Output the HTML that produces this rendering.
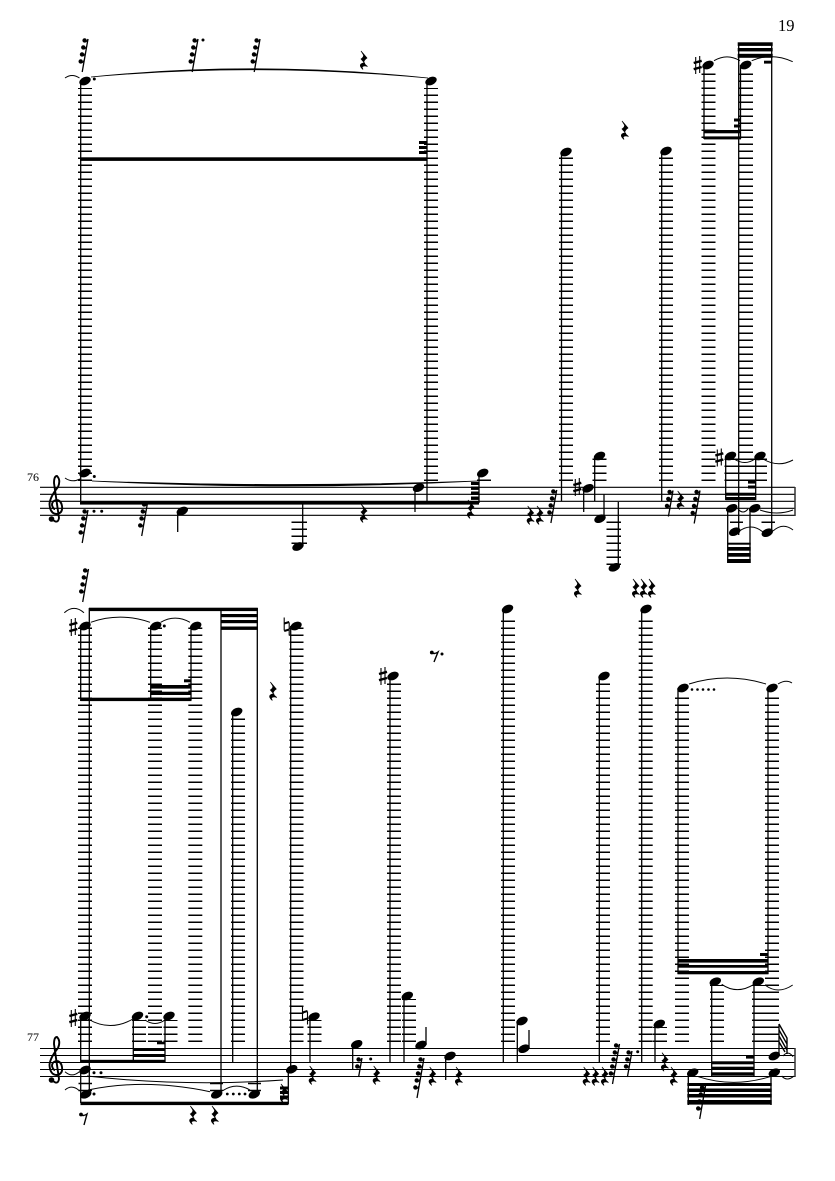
<!DOCTYPE html>
<html><head><meta charset="utf-8"><style>
html,body{margin:0;padding:0;background:#fff}
svg{display:block}
.l{fill:none;stroke:#000;stroke-width:14;stroke-dasharray:1.5 5.5}
.t{stroke:#000;stroke-width:1;fill:none}
.st{stroke:#000;stroke-width:1.3}
text{font-family:"Liberation Serif",serif;fill:#000}
</style></head><body>
<svg width="835" height="1181" viewBox="0 0 835 1181" xmlns="http://www.w3.org/2000/svg">
<defs>
<ellipse id="n" rx="6" ry="3.9" transform="rotate(-24)"/>
<path id="q" stroke="#000" stroke-width=".7" d="M-3 -9L3 -2Q0 0 -.5 3L3.5 6.5Q0 5 -2 7L-1 9.5Q-5 6 -3 4Q-1 2.5 1 3.5L-3 -1Q0 -3 -.5 -5Z"/>
<g id="fl"><circle cx="-3.4" cy="1.4" r="2.2"/><path d="M-3 3Q-1 3 0 0" fill="none" stroke="#000" stroke-width="1.1"/></g>
<g id="r2"><path d="M0 0L-3.4 19" class="st"/><use href="#fl"/><use href="#fl" x="-1.3" y="7"/></g>
<g id="r3"><path d="M0 0L-4.6 26" class="st"/><use href="#fl"/><use href="#fl" x="-1.3" y="7"/><use href="#fl" x="-2.6" y="14"/></g>
<g id="r4"><path d="M0 0L-5.8 33" class="st"/><use href="#fl"/><use href="#fl" x="-1.3" y="7"/><use href="#fl" x="-2.6" y="14"/><use href="#fl" x="-3.9" y="21"/></g>
<g id="r5"><path d="M0 0L-7 40" class="st"/><use href="#fl"/><use href="#fl" x="-1.3" y="7"/><use href="#fl" x="-2.6" y="14"/><use href="#fl" x="-3.9" y="21"/><use href="#fl" x="-5.2" y="28"/></g>
<g id="sh"><path d="M-2 -8V9M2 -9V8" stroke="#000" stroke-width="1.1" fill="none"/><path d="M-4 -2L4 -4.2M-4 4.2L4 2" stroke="#000" stroke-width="2.4" fill="none"/></g>
<g id="na"><path d="M-2.5 -9V4M2.5 -4V9" stroke="#000" stroke-width="1.1" fill="none"/><path d="M-2.5 -3L2.5 -4.5M-2.5 4.5L2.5 3" stroke="#000" stroke-width="2" fill="none"/></g>
<g id="cl"><path d="M53 520Q58 524 59 518L54 483Q54 476 57 476Q61 480 58 487Q50 497 49.5 504Q50 514 57 514Q63 513 62 506Q61 500 56 500Q52 501 52 505Q53 509 55 509" fill="none" stroke="#000" stroke-width="1.9"/><circle cx="51.5" cy="519" r="2.8"/></g>
</defs>
<rect width="835" height="1181" fill="#fff"/>
<text x="778" y="31" font-size="16.5">19</text>
<text x="27" y="481" font-size="12">76</text>
<text x="27" y="1041" font-size="12">77</text>

<path d="M40 487.3H795M40 494.3H795M40 501.3H795M40 508.3H795M40 515.3H795M40 1048.5H795M40 1055.5H795M40 1062.5H795M40 1069.5H795M40 1076.5H795" stroke="#000" stroke-width="1.1" fill="none"/>
<path d="M795 487V516M795 1048V1077" stroke="#333" stroke-width="1.5"/>
<use href="#cl"/><use href="#cl" y="561"/>

<g class="l">
<path d="M85 481V88"/><path d="M431 481V88"/><path d="M566 481V157"/><path d="M666 481V157"/><path d="M708.5 481V71"/><path d="M746 481V71"/>
<path d="M599.5 481V458"/><path d="M731.5 481V458"/><path d="M760 481V458"/><path d="M484 481V478"/>
</g>
<path d="M291.5 522.3H307M291.5 529.3H307M291.5 536.3H307M291.5 543.3H307M606.5 522.3H621M606.5 529.3H621M606.5 536.3H621M606.5 543.3H621M606.5 550.3H621M606.5 557.3H621M606.5 564.3H621M730 522.3H743M761.5 522.3H775" stroke="#000" stroke-width="1.5"/>

<g class="st">
<path d="M80.7 82V503M427 82V503M479 473V503M177.7 511V532M302.7 503V546M415 488V512M561.5 152V501M583.7 488V512M594.7 456V501M604 494V518M618.3 502V567M661.7 151V501M704 65V139M740.5 65V139M738.7 43V535M771.7 43V530M725.7 456V500M755.7 456V500M727.7 508V563M750 508V563"/>
</g>

<g>
<rect x="80" y="157.3" width="347.5" height="3.6"/>
<rect x="80" y="501" width="399" height="3.6"/>
<rect x="419" y="141" width="8" height="3"/><rect x="419" y="146" width="8" height="3"/><rect x="419" y="151" width="8" height="3"/>
<rect x="471" y="482" width="8" height="3"/><rect x="471" y="486.5" width="8" height="3.4"/><rect x="471" y="491.5" width="8" height="3.4"/><rect x="471" y="496.5" width="8" height="3.4"/>
<rect x="737.7" y="42.3" width="35" height="3.6"/><rect x="737.7" y="48" width="35" height="3.4"/><rect x="737.7" y="53.8" width="35" height="4"/>
<rect x="764" y="60.7" width="8" height="2.9"/>
<rect x="704" y="130" width="37" height="3.3"/><rect x="704" y="136.4" width="37" height="3"/>
<rect x="734" y="118.5" width="6.5" height="3"/><rect x="734" y="124.5" width="6.5" height="3"/>
<rect x="725.5" y="492.7" width="30.5" height="3"/><rect x="725.5" y="497" width="30.5" height="3.2"/>
<rect x="748" y="481" width="8" height="2.6"/><rect x="748" y="485.5" width="8" height="3"/>
<rect x="727.3" y="542.7" width="23.4" height="2"/><rect x="727.3" y="547" width="23.4" height="3.7"/><rect x="727.3" y="553" width="23.4" height="3.7"/><rect x="727.3" y="559" width="23.4" height="4"/>
</g>

<use href="#n" x="85" y="81"/><use href="#n" x="431" y="81"/>
<use href="#n" x="85" y="473"/><use href="#n" x="482.7" y="473"/>
<use href="#n" x="182.3" y="511"/><use href="#n" x="298" y="546.5"/><use href="#n" x="418.5" y="487.7"/>
<use href="#n" x="566" y="152"/><use href="#n" x="666" y="151"/><use href="#n" x="708" y="65"/><use href="#n" x="745.7" y="65"/>
<use href="#n" x="588" y="488.3"/><use href="#n" x="599.5" y="456"/><use href="#n" x="600" y="518.7"/><use href="#n" x="614.3" y="567.3"/>
<use href="#n" x="730.5" y="456"/><use href="#n" x="760" y="456"/><use href="#n" x="731.7" y="508.3"/><use href="#n" x="754.7" y="508.3"/><use href="#n" x="734.7" y="531.7"/><use href="#n" x="767.3" y="532.7"/>
<circle cx="94.3" cy="79" r="1.5"/><circle cx="94.3" cy="476.5" r="1.5"/>
<circle cx="94" cy="511.3" r="1.5"/><circle cx="101.7" cy="511.3" r="1.5"/><circle cx="203" cy="40" r="1.5"/>

<use href="#sh" x="697.7" y="65"/><use href="#sh" x="577.3" y="487"/><use href="#sh" x="719.3" y="457.5"/>

<use href="#r4" x="88" y="39"/><use href="#r4" x="198" y="39"/><use href="#r4" x="260" y="39"/>
<use href="#q" x="364" y="60"/><use href="#q" x="625" y="130"/>
<use href="#r4" x="88" y="510"/>
<use href="#r4" x="147.5" y="503"/>
<use href="#q" x="364" y="513"/><use href="#q" x="471" y="509"/>
<use href="#q" x="530.7" y="515"/><use href="#q" x="540" y="515"/>
<use href="#r4" x="556.7" y="490"/><use href="#r3" x="673" y="490.5"/><use href="#q" x="680.7" y="500"/><use href="#r4" x="700" y="490.5"/>

<g class="t">
<path d="M91 77Q255 60 428 78Q255 62 91 77Z" stroke-width=".7" fill="#000"/>
<path d="M65 78Q72 73 79.5 78"/>
<path d="M92 481Q285 491 478 481Q285 488 92 481Z" stroke-width=".7" fill="#000"/>
<path d="M65 478Q72 483 80 479"/>
<path d="M714 60.7Q727 53 740 60.7M751.7 60.7Q772 52 792.7 61.7M734 459Q745 466 755 459M763 459Q778 468 793 460M738 509Q743 515 748 509M760 510Q777 516 793 510M738 532Q751 522 763 532M773 531Q783 522 793 530"/>
</g>

<g class="l">
<path d="M85 1042V627"/><path d="M155 1042V627"/><path d="M195.3 1042V627"/><path d="M296.5 1042V627"/><path d="M238 1042V718"/><path d="M394 1042V683"/><path d="M508 1042V616"/><path d="M603 1042V683"/><path d="M645.7 1042V616"/><path d="M682 1042V694"/><path d="M772 1042V694"/>
<path d="M314.5 1042V1020"/><path d="M409 1042V999"/><path d="M660 1042V1027"/><path d="M717 1042V985"/><path d="M759 1042V985"/><path d="M139 1042V1020"/><path d="M170.5 1042V1020"/>
</g>
<path d="M78.5 1083.5H92M78.5 1090.5H92M210 1083.5H223M210 1090.5H223M248 1083.5H261M248 1090.5H261" stroke="#000" stroke-width="1.5"/>

<g class="st">
<path d="M80.7 626V701M80.7 1016V1062M89.3 608V1093M150.7 626V700M191 626V700M221 608V1091M257.3 608V1091M232.7 712V1062M290.7 626V1069M133.3 1016V1062M165 1016V1062M310 1016V1062M80.7 1070V1103M288.3 1069V1104M352.7 1044V1069M390 676V1062M404 996V1062M426 1045V1027M445.7 1056V1080M503.3 609V1062M517.3 1021V1062M529 1049V1030M599.3 676V1063M641.7 609V1063M655 1024V1062M678 688V974M768 688V974M711.7 982V1076M754 982V1076M779 1056V1024M771 1072V1105M688.3 1072V1105"/>
</g>

<g>
<rect x="89" y="607.7" width="168.8" height="3.4"/>
<rect x="221" y="614" width="36.8" height="3.2"/><rect x="221" y="620" width="36.8" height="3.2"/><rect x="221" y="626.5" width="36.8" height="3.4"/>
<rect x="80.5" y="697.7" width="111" height="3.4"/>
<rect x="150.7" y="685" width="40.5" height="3.6"/><rect x="150.7" y="691.7" width="40.5" height="3.3"/>
<rect x="184" y="679.3" width="7" height="3"/>
<rect x="80.5" y="1059.8" width="84.8" height="2.8"/>
<rect x="133.3" y="1048" width="32" height="3"/><rect x="133.3" y="1054" width="32" height="3"/>
<rect x="157" y="1041.7" width="8" height="2.6"/>
<rect x="80.5" y="1101.7" width="208" height="3.4"/>
<rect x="280" y="1086.5" width="8.3" height="3"/><rect x="280" y="1091" width="8.3" height="3"/><rect x="280" y="1095.5" width="8.3" height="3"/>
<rect x="677.5" y="959" width="91" height="3.6"/><rect x="677.5" y="965" width="91" height="2.7"/><rect x="677.5" y="971" width="91" height="3.3"/>
<rect x="760" y="953" width="8.3" height="3"/>
<rect x="711.7" y="1061.3" width="42.5" height="3"/><rect x="711.7" y="1066.7" width="42.5" height="3.3"/><rect x="711.7" y="1072.3" width="42.5" height="3.4"/>
<rect x="746" y="1055.3" width="8" height="3.3"/>
<rect x="687.3" y="1083" width="84.4" height="3"/><rect x="687.3" y="1088.5" width="84.4" height="3.5"/><rect x="687.3" y="1094" width="84.4" height="3.5"/><rect x="687.3" y="1100" width="84.4" height="4.6"/>
</g>
<path d="M779 1024L787 1038V1045M779 1030L787 1044V1050M779 1036L787 1050V1054M779 1042L785 1052" stroke="#000" stroke-width="1.4" fill="none"/>

<use href="#n" x="85" y="626"/><use href="#n" x="155.7" y="626"/><use href="#n" x="195.7" y="626"/><use href="#n" x="296" y="626"/><use href="#n" x="236.7" y="712"/>
<use href="#n" x="393" y="676"/><use href="#n" x="507.5" y="609"/><use href="#n" x="604" y="676"/><use href="#n" x="646" y="609"/><use href="#n" x="683" y="688"/><use href="#n" x="772" y="688"/>
<use href="#n" x="85" y="1016"/><use href="#n" x="137.5" y="1016"/><use href="#n" x="169" y="1016"/><use href="#n" x="85" y="1070"/><use href="#n" x="85.7" y="1094.3"/>
<use href="#n" x="216.7" y="1094.3"/><use href="#n" x="254.3" y="1094.3"/><use href="#n" x="291.7" y="1069.3"/><use href="#n" x="314" y="1016.7"/>
<use href="#n" x="356.7" y="1044.3"/><use href="#n" x="407.3" y="996"/><use href="#n" x="421" y="1045"/><use href="#n" x="450" y="1056"/>
<use href="#n" x="522" y="1021"/><use href="#n" x="524" y="1048.7"/><use href="#n" x="659.3" y="1024"/>
<use href="#n" x="715.3" y="981.7"/><use href="#n" x="758.3" y="981.7"/><use href="#n" x="774.3" y="1056"/><use href="#n" x="774.3" y="1072.7"/><use href="#n" x="692.7" y="1072.7"/>

<g>
<circle cx="164.3" cy="626" r="1.5"/><circle cx="146.7" cy="1016.7" r="1.5"/>
<circle cx="94" cy="1072.7" r="1.5"/><circle cx="101" cy="1072.7" r="1.5"/><circle cx="94" cy="1094" r="1.5"/>
<circle cx="227.3" cy="1094" r="1.4"/><circle cx="233.3" cy="1094" r="1.4"/><circle cx="239.3" cy="1094" r="1.4"/><circle cx="245" cy="1094" r="1.4"/>
<circle cx="370.7" cy="1059" r="1.5"/><circle cx="637.7" cy="1051.7" r="1.5"/>
<circle cx="692" cy="689.5" r="1.3"/><circle cx="697.5" cy="689.5" r="1.3"/><circle cx="703" cy="689.5" r="1.3"/><circle cx="708.5" cy="689.5" r="1.3"/><circle cx="714" cy="689.5" r="1.3"/>
<circle cx="442" cy="654" r="1.5"/>
</g>

<use href="#sh" x="73.3" y="627"/><use href="#sh" x="73.3" y="1018"/><use href="#sh" x="383" y="676"/>
<use href="#na" x="286.7" y="626.5"/><use href="#na" x="305" y="1015.5"/>

<use href="#r4" x="88.5" y="569"/>
<use href="#q" x="273.3" y="691"/><use href="#q" x="578" y="588"/><use href="#q" x="636" y="588"/><use href="#q" x="644" y="588"/><use href="#q" x="652" y="588"/>
<path d="M431 652Q434 655 438 652L434 662" fill="none" stroke="#000" stroke-width="1.4"/><circle cx="431.8" cy="652.5" r="1.9"/>
<path d="M80 1114Q83 1117 87 1114L84 1125" fill="none" stroke="#000" stroke-width="1.4"/><circle cx="81" cy="1114.5" r="1.9"/>
<use href="#q" x="193.3" y="1115"/><use href="#q" x="215" y="1115"/>
<use href="#q" x="312.7" y="1075"/><use href="#r2" x="362" y="1058"/><use href="#q" x="376.7" y="1075"/>
<use href="#r5" x="424" y="1058"/><use href="#q" x="432.7" y="1076"/><use href="#q" x="459" y="1076"/>
<use href="#q" x="586.7" y="1076"/><use href="#q" x="595.7" y="1076"/><use href="#q" x="605" y="1076"/>
<use href="#r5" x="619.5" y="1044"/><use href="#r3" x="632" y="1051"/>
<use href="#q" x="665" y="1061.7"/><use href="#q" x="674" y="1076"/>
<use href="#r4" x="705.5" y="1086"/>
<use href="#q" x="284" y="1093"/>

<g class="t">
<path d="M64.3 612.7Q74 604 84 612.7M90.7 622.3Q120 612 150 622.3M160.7 622.3Q175 614 190 622.3"/>
<path d="M88 1019Q110 1032 133 1019M145 1020Q155 1027 165 1020M65 1071.7Q72 1078 79.3 1071.7M65 1090Q72 1084 79.3 1090.7"/>
<path d="M88 1090Q145 1078 210 1091.7M222.7 1090.7Q236 1082 250 1090"/>
<path d="M87 1076Q185 1087 283 1080"/>
<path d="M689 684Q727 672 766 684M778 684Q786 679 792 683"/>
<path d="M721.7 984.3Q737 995 754 984.3M765 985Q778 995 792.7 985"/>
<path d="M698.3 1076.7Q733 1088 770 1076.7M781.7 1076Q787 1082 794 1076M783 1056Q788 1050 793 1056.7"/>
</g>
</svg>
</body></html>
